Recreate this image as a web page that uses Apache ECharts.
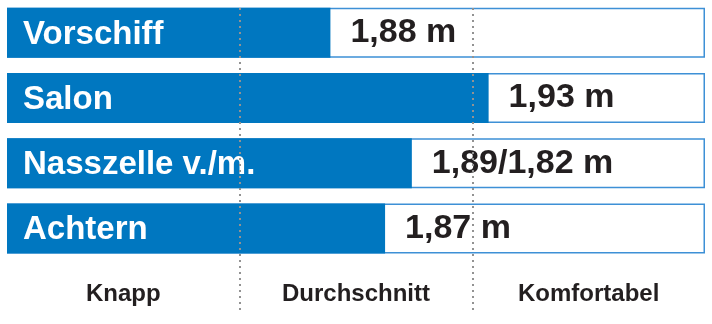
<!DOCTYPE html>
<html>
<head>
<meta charset="utf-8">
<script src="https://cdn.jsdelivr.net/npm/echarts@6/dist/echarts.min.js"></script>
<style>
html,body{margin:0;padding:0;background:#fff;}
#chart{width:712px;height:324px;}
</style>
</head>
<body>
<div id="chart"></div>
<script>
// Rooms (top to bottom)
var categories = ['Vorschiff', 'Salon', 'Nasszelle v./m.', 'Achtern'];
// Rating position on a 0–3 scale (Knapp | Durchschnitt | Komfortabel)
var ratingValues = [1.39, 2.07, 1.74, 1.625];
// Headroom labels
var valueLabels = ['1,88 m', '1,93 m', '1,89/1,82 m', '1,87 m'];
// Zone labels along the bottom
var zones = ['Knapp', 'Durchschnitt', 'Komfortabel'];
var scaleMax = 3;

var chart = echarts.init(document.getElementById('chart'), null, {renderer: 'canvas'});
var fullBars = categories.map(function () { return scaleMax; });

chart.setOption({
  animation: false,
  backgroundColor: '#ffffff',
  grid: [
    {left: 7, right: 7, top: 0, height: 261},
    {left: 7, right: 7, top: 8, height: 303}
  ],
  xAxis: [
    {gridIndex: 0, type: 'value', min: 0, max: scaleMax, show: false},
    {
      gridIndex: 1, type: 'category', data: zones, boundaryGap: true, z: 10,
      axisLine: {show: false}, axisTick: {show: false},
      axisLabel: {
        inside: true, margin: 5, color: '#231f20',
        fontFamily: '"Liberation Sans", Arial, sans-serif',
        fontWeight: 'bold', fontSize: 24
      },
      splitLine: {
        show: true, interval: 0, showMinLine: false, showMaxLine: false,
        lineStyle: {color: '#929292', width: 2, type: [2, 4]}
      }
    }
  ],
  yAxis: [
    {gridIndex: 0, type: 'category', data: categories, inverse: true, show: false},
    {gridIndex: 1, type: 'value', show: false, splitLine: {show: false}}
  ],
  series: [
    {
      type: 'bar', xAxisIndex: 0, yAxisIndex: 0, data: fullBars,
      barWidth: 50, barGap: '-100%', silent: true,
      itemStyle: {color: '#ffffff', borderColor: '#3d90d6', borderWidth: 1.5}
    },
    {
      type: 'bar', xAxisIndex: 0, yAxisIndex: 0, data: ratingValues,
      barWidth: 50, barGap: '-100%',
      itemStyle: {color: '#0077c0'},
      label: {
        show: true, position: 'insideLeft', distance: 16, offset: [0, 2], formatter: '{b}',
        color: '#ffffff', fontSize: 33, fontWeight: 'bold',
        fontFamily: '"Liberation Sans", Arial, sans-serif'
      }
    },
    {
      type: 'bar', xAxisIndex: 0, yAxisIndex: 0, data: ratingValues,
      barWidth: 50, barGap: '-100%',
      itemStyle: {color: 'rgba(0,0,0,0)'},
      label: {
        show: true, position: 'right', distance: 20,
        formatter: function (p) { return valueLabels[p.dataIndex]; },
        color: '#231f20', fontSize: 34, fontWeight: 'bold',
        fontFamily: '"Liberation Sans", Arial, sans-serif'
      }
    }
  ]
});
</script>
</body>
</html>
